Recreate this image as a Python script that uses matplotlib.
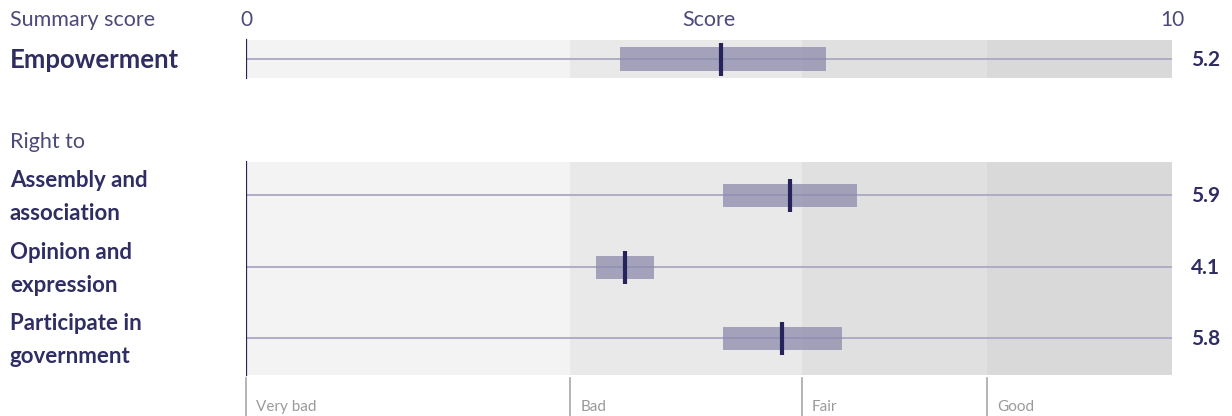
import matplotlib
matplotlib.use("Agg")
import matplotlib.pyplot as plt
from matplotlib.transforms import blended_transform_factory

plt.rcParams['font.family'] = ['Lato', 'DejaVu Sans']

# data
summary_name = "Empowerment"
summary_low = 4.04
summary_high = 6.26
summary_mid = 5.13
summary_label = "5.2"

right_names = ["Assembly and\nassociation", "Opinion and\nexpression", "Participate in\ngovernment"]
right_low = [5.15, 3.78, 5.15]
right_high = [6.60, 4.41, 6.44]
right_mid = [5.88, 4.09, 5.79]
right_labels = ["5.9", "4.1", "5.8"]

band_edges = [0, 3.5, 6, 8, 10]
band_names = ["Very bad", "Bad", "Fair", "Good"]
band_colors = ["#f3f3f3", "#e9e9e9", "#e0e0e0", "#d9d9d9"]

navy = "#25235a"
text_col = "#2f2d62"
soft_text = "#4b4a78"
row_line = "#aaa8c4"
box_col = "#8d8aab"

# layout (pixel rows of the 416 px tall figure)
summary_row = 59
summary_panel = (40, 78)
right_rows = [195, 267, 338]
right_panel = (162, 375)

fig = plt.figure(figsize=(12.32, 4.16), dpi=100)
ax = fig.add_axes([246 / 1232, 0, 926 / 1232, 1])
ax.set_xlim(0, 10)
ax.set_ylim(416, 0)
ax.axis('off')
figx = blended_transform_factory(fig.transFigure, ax.transData)


def draw_panel(top, bottom):
    for i, col in enumerate(band_colors):
        ax.fill_between([band_edges[i], band_edges[i + 1]], top, bottom, color=col, lw=0, zorder=0)
    ax.plot([0, 0], [top, bottom], color=navy, lw=1.6, zorder=3)


def draw_row(y, low, high, mid, label, half_box, half_mark):
    ax.plot([0, 10], [y, y], color=row_line, lw=1.3, zorder=1)
    ax.fill_between([low, high], y - half_box, y + half_box, color=box_col, alpha=0.75, lw=0, zorder=2)
    ax.plot([mid, mid], [y - half_mark, y + half_mark], color=navy, lw=3, solid_capstyle='butt', zorder=4)
    ax.text(10.21, y + 1, label, ha='left', va='center', fontsize=15, fontweight='bold', color=text_col)


draw_panel(*summary_panel)
draw_row(summary_row, summary_low, summary_high, summary_mid, summary_label, 12, 16.5)

draw_panel(*right_panel)
for y, lo, hi, md, lab in zip(right_rows, right_low, right_high, right_mid, right_labels):
    draw_row(y, lo, hi, md, lab, 11.5, 16.5)

# header
ax.text(10 / 1232, 20, "Summary score", transform=figx, ha='left', va='center', fontsize=15.5, color=soft_text)
ax.text(0, 20, "0", ha='center', va='center', fontsize=15, color=soft_text)
ax.text(5, 20, "Score", ha='center', va='center', fontsize=15.5, color=soft_text)
ax.text(10, 20, "10", ha='center', va='center', fontsize=15, color=soft_text)

ax.text(10 / 1232, summary_row + 1, summary_name, transform=figx, ha='left', va='center',
        fontsize=18.5, fontweight='bold', color=text_col)
ax.text(10 / 1232, 142, "Right to", transform=figx, ha='left', va='center', fontsize=15.5, color=soft_text)
for y, name in zip(right_rows, right_names):
    ax.text(10 / 1232, y + 2, name, transform=figx, ha='left', va='center', fontsize=16,
            fontweight='bold', color=text_col, linespacing=1.65)

# category ticks
for edge, name in zip(band_edges[:-1], band_names):
    ax.plot([edge, edge], [378, 416], color="#a8a8a8", lw=1.2, clip_on=False)
    ax.text(edge + 0.11, 407, name, ha='left', va='center', fontsize=11, color="#9a9a9a")

fig.savefig("out.png", dpi=100)
